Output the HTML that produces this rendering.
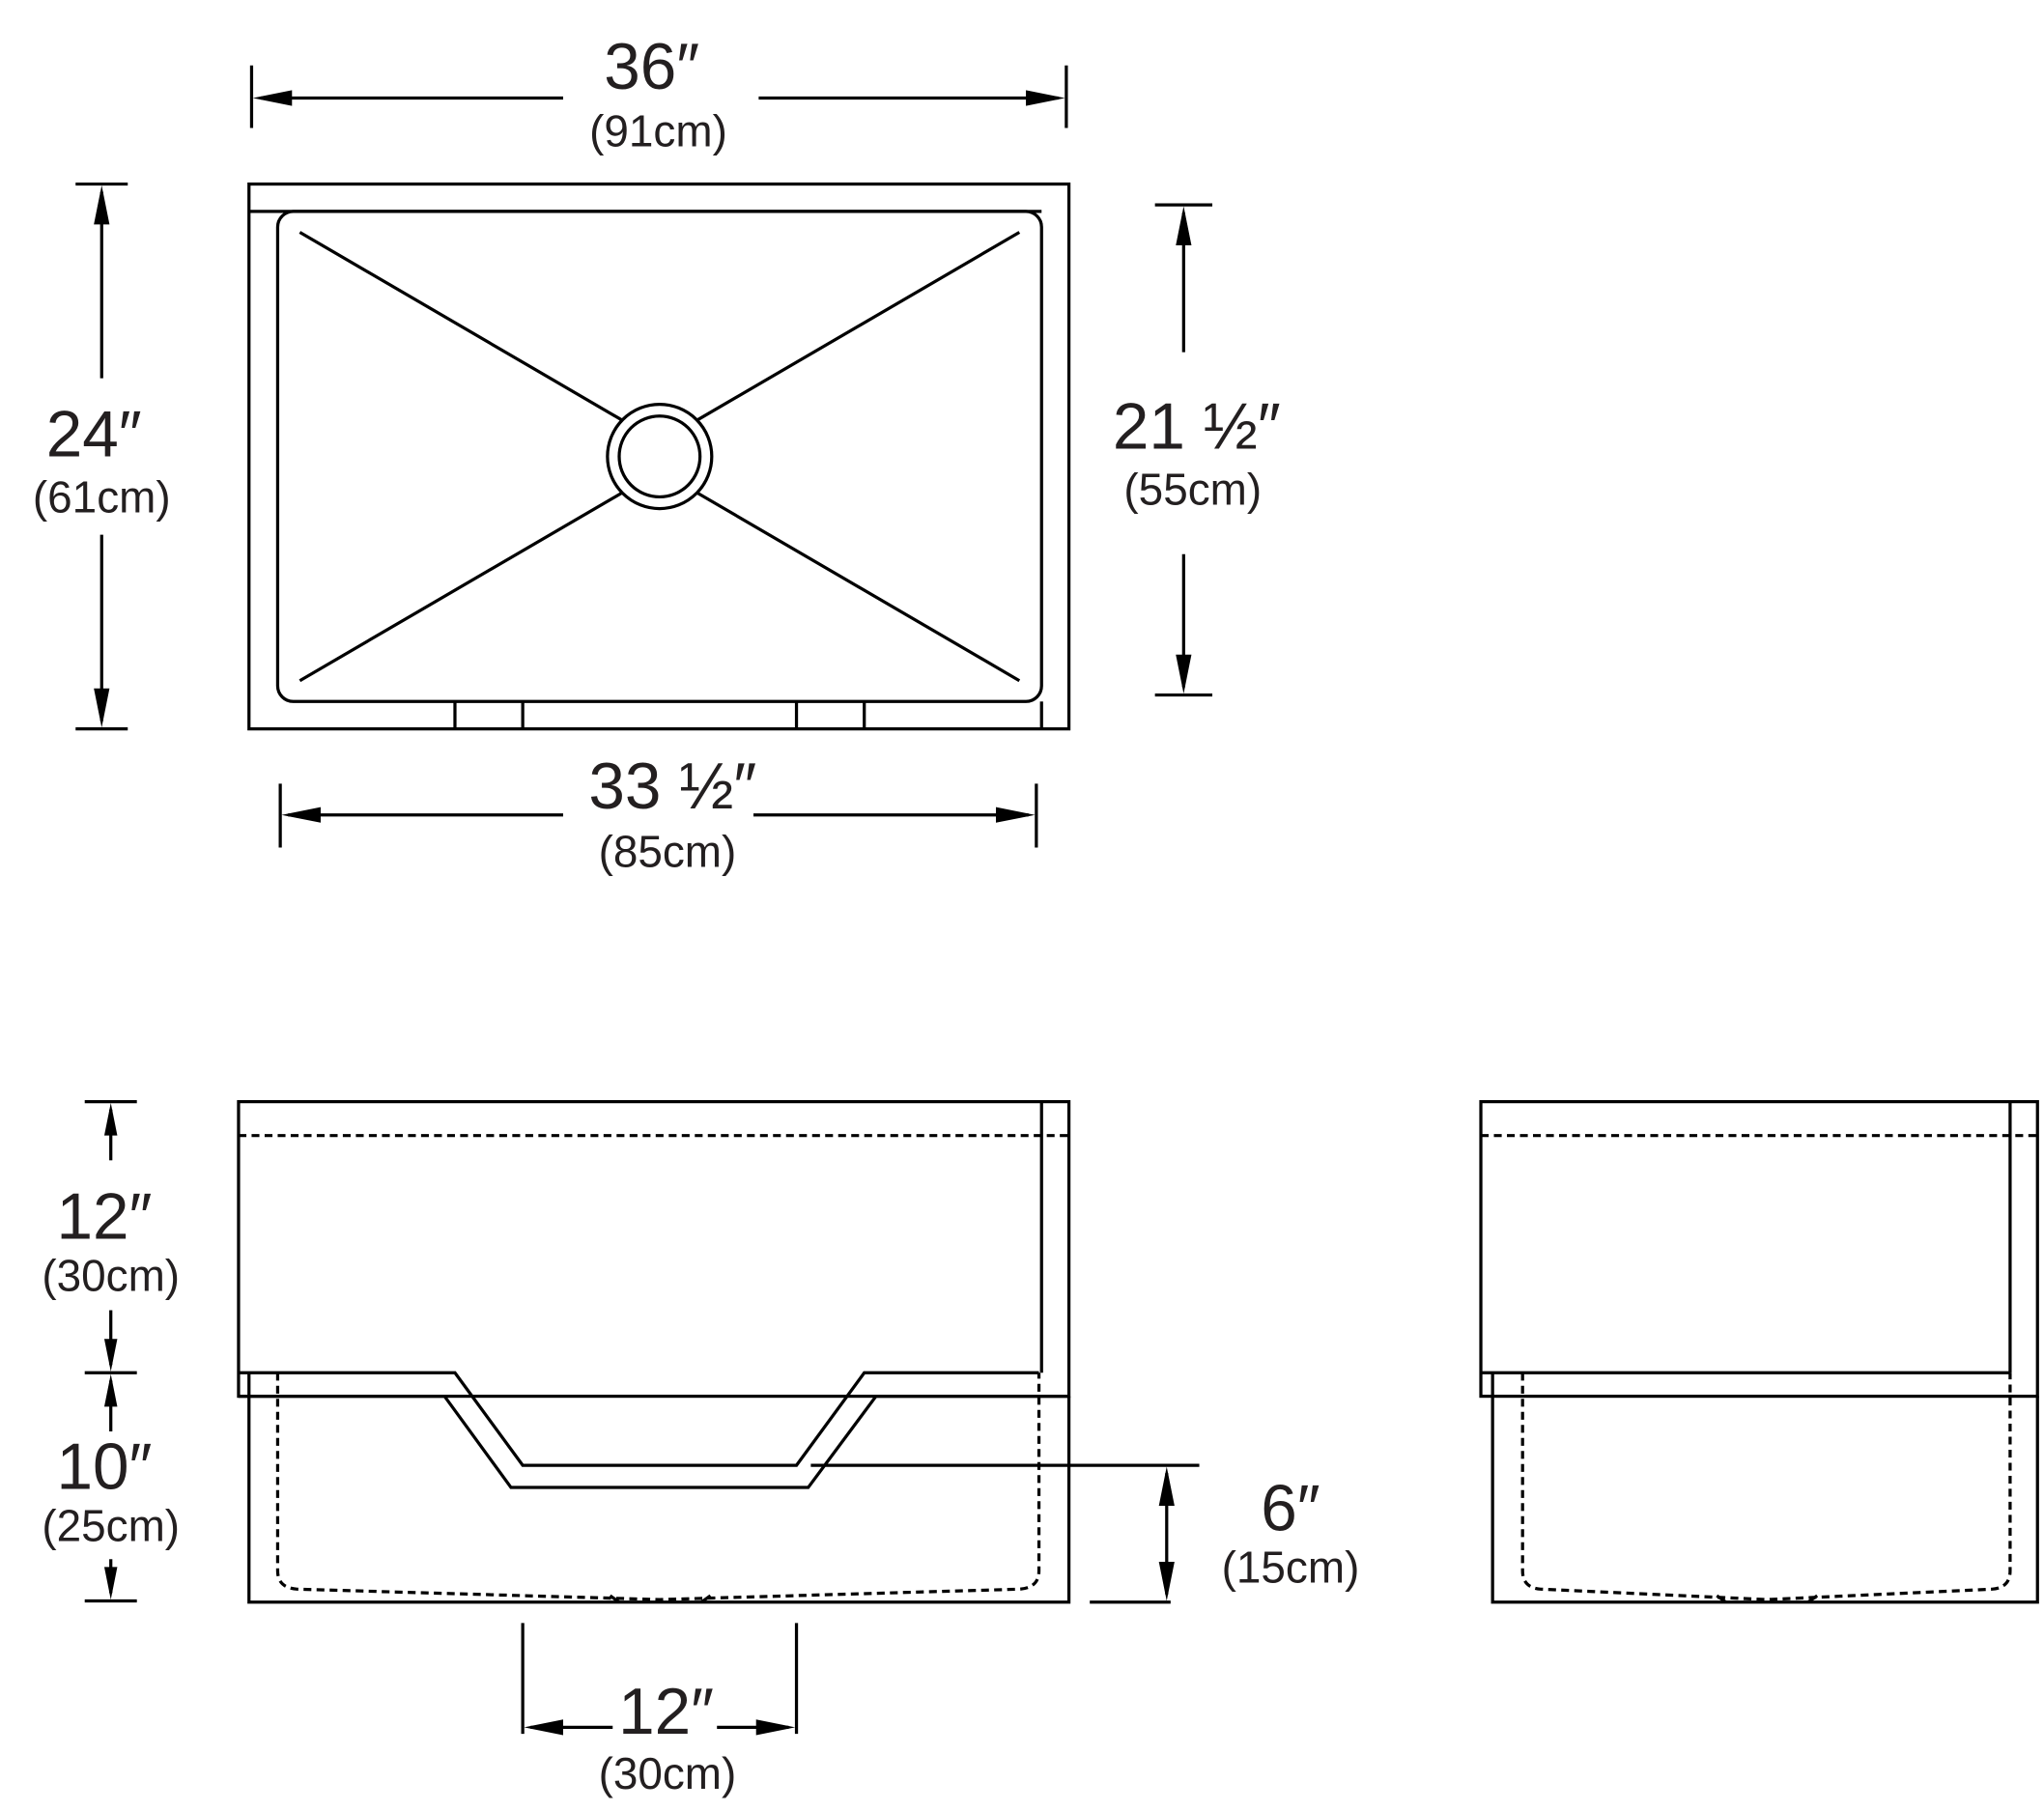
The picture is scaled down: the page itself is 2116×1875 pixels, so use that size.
<!DOCTYPE html>
<html><head><meta charset="utf-8"><style>
html,body{margin:0;padding:0;background:#fff}
svg{display:block}
text{font-family:"Liberation Sans",sans-serif;fill:#231f20;text-anchor:middle}
.b{font-size:50px}.s{font-size:34px}
</style></head><body>
<svg width="2116" height="1875" viewBox="0 0 1568 1389" xmlns="http://www.w3.org/2000/svg">
<g fill="none" stroke="#000" stroke-width="2.4">
<!-- top view -->
<rect x="191" y="141" width="629" height="418"/>
<line x1="191" y1="162" x2="799" y2="162"/>
<rect x="213" y="162" width="586" height="376" rx="12"/>
<line x1="799" y1="538" x2="799" y2="559"/>
<line x1="349" y1="538" x2="349" y2="559"/><line x1="401" y1="538" x2="401" y2="559"/>
<line x1="611" y1="538" x2="611" y2="559"/><line x1="663" y1="538" x2="663" y2="559"/>
<circle cx="506" cy="350" r="40"/><circle cx="506" cy="350" r="31"/>
<line x1="230" y1="178" x2="477" y2="322"/>
<line x1="782" y1="178" x2="535" y2="322"/>
<line x1="230" y1="522" x2="477" y2="378"/>
<line x1="782" y1="522" x2="535" y2="378"/>
<!-- dims top view -->
<line x1="193" y1="50" x2="193" y2="98"/><line x1="818" y1="50" x2="818" y2="98"/>
<line x1="200" y1="75" x2="432" y2="75"/><line x1="582" y1="75" x2="812" y2="75"/>
<line x1="58" y1="141" x2="98" y2="141"/><line x1="58" y1="559" x2="98" y2="559"/>
<line x1="78" y1="147" x2="78" y2="290"/><line x1="78" y1="410" x2="78" y2="553"/>
<line x1="886" y1="157" x2="930" y2="157"/><line x1="886" y1="533" x2="930" y2="533"/>
<line x1="908" y1="163" x2="908" y2="270"/><line x1="908" y1="425" x2="908" y2="527"/>
<line x1="215" y1="601" x2="215" y2="650"/><line x1="795" y1="601" x2="795" y2="650"/>
<line x1="221" y1="625" x2="432" y2="625"/><line x1="578" y1="625" x2="789" y2="625"/>
<!-- front view -->
<rect x="183" y="845" width="637" height="226"/>
<line x1="799" y1="845" x2="799" y2="1053"/>
<line x1="183" y1="871" x2="820" y2="871" stroke-dasharray="6,4"/>
<polyline points="183,1053 349,1053 401,1124 611,1124 663,1053 797,1053"/>
<polyline points="183,1071 341,1071 392,1141 620,1141 672,1071 820,1071"/>
<polyline points="191,1053 191,1229 820,1229 820,1071"/>
<path d="M213,1053 V1205 Q213,1218 228,1219 L506,1227 L782,1219 Q797,1218 797,1205 V1053" stroke-dasharray="6,4"/>
<path d="M468,1224 L475,1229 M545,1224 L538,1229"/>
<line x1="622" y1="1124" x2="920" y2="1124"/>
<line x1="836" y1="1229" x2="898" y2="1229"/>
<line x1="895" y1="1130" x2="895" y2="1223"/>
<line x1="65" y1="845" x2="105" y2="845"/><line x1="65" y1="1053" x2="105" y2="1053"/><line x1="65" y1="1228" x2="105" y2="1228"/>
<line x1="85" y1="851" x2="85" y2="890"/><line x1="85" y1="1005" x2="85" y2="1047"/>
<line x1="85" y1="1059" x2="85" y2="1098"/><line x1="85" y1="1196" x2="85" y2="1222"/>
<line x1="401" y1="1245" x2="401" y2="1330"/><line x1="611" y1="1245" x2="611" y2="1330"/>
<line x1="407" y1="1325" x2="470" y2="1325"/><line x1="550" y1="1325" x2="605" y2="1325"/>
<!-- side view -->
<rect x="1136" y="845" width="427" height="226"/>
<line x1="1542" y1="845" x2="1542" y2="1053"/>
<line x1="1136" y1="871" x2="1563" y2="871" stroke-dasharray="6,4"/>
<line x1="1136" y1="1053" x2="1542" y2="1053"/>
<polyline points="1145,1053 1145,1229 1563,1229 1563,1071"/>
<path d="M1168,1053 V1205 Q1168,1218 1182,1219 L1355,1227 L1528,1219 Q1542,1218 1542,1205 V1053" stroke-dasharray="6,4"/>
<path d="M1317,1224 L1324,1229 M1394,1224 L1387,1229"/>
</g>
<g fill="#000">
<path d="M194,75 l30,-6 v12z"/><path d="M817,75 l-30,-6 v12z"/>
<path d="M78,142 l-6,30 h12z"/><path d="M78,558 l-6,-30 h12z"/>
<path d="M908,158 l-6,30 h12z"/><path d="M908,532 l-6,-30 h12z"/>
<path d="M216,625 l30,-6 v12z"/><path d="M794,625 l-30,-6 v12z"/>
<path d="M895,1125 l-6,30 h12z"/><path d="M895,1228 l-6,-30 h12z"/>
<path d="M85,846 l-5,25 h10z"/><path d="M85,1052 l-5,-25 h10z"/>
<path d="M85,1054 l-5,25 h10z"/><path d="M85,1227 l-5,-25 h10z"/>
<path d="M402,1325 l30,-6 v12z"/><path d="M610,1325 l-30,-6 v12z"/>
</g>
<text class="b" x="500" y="68">36″</text><text class="s" x="505" y="112">(91cm)</text>
<text class="b" x="72" y="350">24″</text><text class="s" x="78" y="393">(61cm)</text>
<text class="b" x="918" y="344">21 ½″</text><text class="s" x="915" y="387">(55cm)</text>
<text class="b" x="516" y="620">33 ½″</text><text class="s" x="512" y="665">(85cm)</text>
<text class="b" x="80" y="950">12″</text><text class="s" x="85" y="990">(30cm)</text>
<text class="b" x="80" y="1142">10″</text><text class="s" x="85" y="1182">(25cm)</text>
<text class="b" x="990" y="1174">6″</text><text class="s" x="990" y="1214">(15cm)</text>
<text class="b" x="511" y="1330">12″</text><text class="s" x="512" y="1372">(30cm)</text>
</svg>
</body></html>
